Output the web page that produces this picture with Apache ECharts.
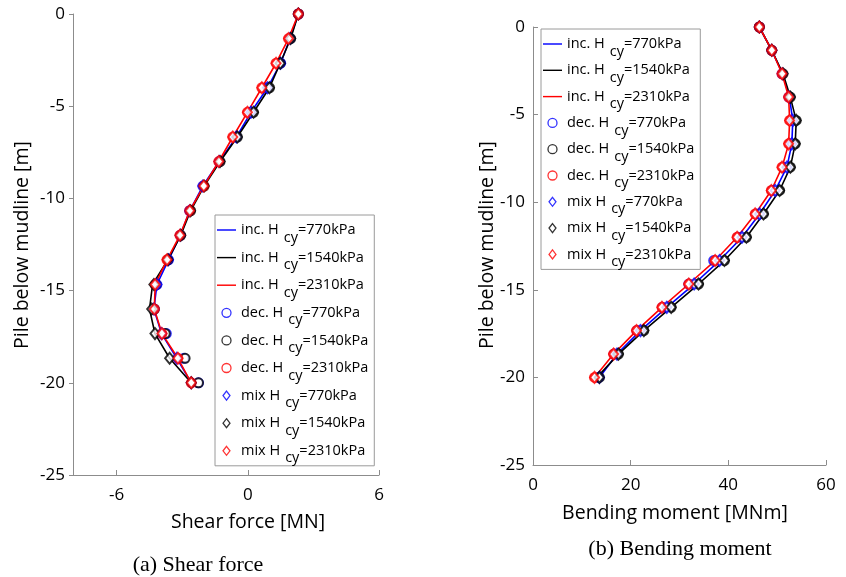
<!DOCTYPE html>
<html>
<head>
<meta charset="utf-8">
<script src="https://cdn.jsdelivr.net/npm/echarts@6/dist/echarts.min.js"></script>
<style>html,body{margin:0;padding:0;background:#fff;}#c{width:846px;height:577px;}</style>
</head>
<body>
<div id="c"></div>
<script>
// depth below mudline [m]
const depth = [0, -1.33, -2.67, -4, -5.33, -6.67, -8, -9.33, -10.67, -12, -13.33, -14.67, -16, -17.33, -18.67, -20];

// Shear force [MN]
const shearInc770  = [2.31, 1.93, 1.50, 0.90, 0.14, -0.52, -1.31, -2.06, -2.66, -3.09, -3.63, -4.16, -4.30, -3.95, -3.25, -2.59];
const shearInc1540 = [2.31, 1.96, 1.48, 0.99, 0.26, -0.48, -1.27, -2.00, -2.62, -3.07, -3.66, -4.36, -4.50, -4.25, -3.58, -2.59];
const shearInc2310 = [2.31, 1.86, 1.29, 0.64, -0.02, -0.69, -1.33, -2.02, -2.66, -3.11, -3.70, -4.24, -4.28, -3.93, -3.20, -2.59];
const shearDec770  = [2.31, 1.93, 1.50, 0.90, 0.14, -0.52, -1.31, -2.06, -2.66, -3.09, -3.63, -4.16, -4.28, -3.73, -2.92, -2.26];
const shearDec1540 = [2.31, 1.96, 1.48, 0.99, 0.26, -0.48, -1.27, -2.00, -2.62, -3.07, -3.66, -4.20, -4.28, -3.78, -2.87, -2.26];
const shearDec2310 = [2.31, 1.86, 1.29, 0.64, -0.02, -0.69, -1.33, -2.02, -2.66, -3.11, -3.70, -4.24, -4.28, -3.93, -3.20, -2.59];
const shearMix770  = [2.31, 1.93, 1.50, 0.90, 0.14, -0.52, -1.31, -2.06, -2.66, -3.09, -3.63, -4.16, -4.30, -3.95, -3.25, -2.59];
const shearMix1540 = [2.31, 1.96, 1.48, 0.99, 0.26, -0.48, -1.27, -2.00, -2.62, -3.07, -3.66, -4.30, -4.40, -4.25, -3.58, -2.59];
const shearMix2310 = [2.31, 1.86, 1.29, 0.64, -0.02, -0.69, -1.33, -2.02, -2.66, -3.11, -3.70, -4.24, -4.28, -3.93, -3.20, -2.59];

// Bending moment [MNm]
const bendInc770  = [46.35, 48.9, 51.1, 52.5, 53.2, 53.0, 52.0, 49.6, 46.4, 42.8, 38.2, 33.0, 27.4, 22.0, 17.2, 13.6];
const bendInc1540 = [46.35, 48.9, 51.2, 52.7, 53.9, 53.7, 52.7, 50.5, 47.2, 43.7, 39.2, 33.9, 28.3, 22.7, 17.5, 13.1];
const bendInc2310 = [46.35, 48.9, 51.0, 52.35, 52.55, 52.35, 51.0, 48.8, 45.5, 41.8, 37.3, 31.9, 26.4, 21.2, 16.5, 12.6];
const bendDec770  = [46.35, 48.9, 51.0, 52.4, 52.8, 52.6, 51.3, 49.0, 45.8, 42.0, 37.0, 31.9, 26.5, 21.3, 16.6, 13.4];
const bendDec1540 = [46.35, 48.9, 51.2, 52.7, 53.9, 53.7, 52.7, 50.5, 47.2, 43.7, 39.2, 33.9, 28.3, 22.7, 17.5, 13.6];
const bendDec2310 = [46.35, 48.9, 51.0, 52.35, 52.55, 52.35, 51.0, 48.8, 45.5, 41.8, 37.3, 31.9, 26.4, 21.2, 16.5, 12.6];
const bendMix770  = [46.35, 48.9, 51.1, 52.5, 53.2, 53.0, 52.0, 49.6, 46.4, 42.8, 38.2, 33.0, 27.4, 22.0, 17.2, 13.6];
const bendMix1540 = [46.35, 48.9, 51.2, 52.7, 53.9, 53.7, 52.7, 50.5, 47.2, 43.7, 39.2, 33.9, 28.3, 22.7, 17.5, 13.6];
const bendMix2310 = [46.35, 48.9, 51.0, 52.35, 52.55, 52.35, 51.0, 48.8, 45.5, 41.8, 37.3, 31.9, 26.4, 21.2, 16.5, 12.6];

const names = [
  'inc. H cy=770kPa', 'inc. H cy=1540kPa', 'inc. H cy=2310kPa',
  'dec. H cy=770kPa', 'dec. H cy=1540kPa', 'dec. H cy=2310kPa',
  'mix H cy=770kPa', 'mix H cy=1540kPa', 'mix H cy=2310kPa'
];
const colors = ['#0000ff', '#000000', '#ff0000'];
const yTicks = [0, -5, -10, -15, -20, -25];
const shearTicks = [-6, 0, 6];
const bendTicks = [0, 20, 40, 60];

const FONT = 'Open Sans';
const shearSets = [shearInc770, shearInc1540, shearInc2310, shearDec770, shearDec1540, shearDec2310, shearMix770, shearMix1540, shearMix2310];
const bendSets = [bendInc770, bendInc1540, bendInc2310, bendDec770, bendDec1540, bendDec2310, bendMix770, bendMix1540, bendMix2310];

function pairs(vals) { return vals.map((v, i) => [v, depth[i]]); }

function makeSeries(sets, idx) {
  return sets.map((vals, k) => {
    const grp = Math.floor(k / 3), c = colors[k % 3];
    const base = { name: names[k], xAxisIndex: idx, yAxisIndex: idx, data: pairs(vals), animation: false, z: 2 + k };
    if (grp === 0) {
      return Object.assign(base, { type: 'line', symbol: 'none', lineStyle: { color: c, width: 1.6 }, itemStyle: { color: c } });
    }
    return Object.assign(base, {
      type: 'scatter',
      symbol: grp === 1 ? 'emptyCircle' : 'emptyDiamond',
      symbolSize: grp === 1 ? 9 : [9, 11],
      itemStyle: { color: c, borderColor: c, borderWidth: 1.5 }
    });
  });
}

function legendData() {
  return names.map((n, k) => {
    const grp = Math.floor(k / 3), c = colors[k % 3];
    if (grp === 0) {
      return { name: n, icon: 'path://M0,0H40V3H0Z', itemStyle: { color: c, borderWidth: 0 } };
    }
    if (grp === 1) {
      return { name: n, icon: 'circle', itemStyle: { color: '#fff', borderColor: c, borderWidth: 1.3 } };
    }
    return { name: n, icon: 'path://M5,0L10,6.5L5,13L0,6.5Z', itemStyle: { color: '#fff', borderColor: c, borderWidth: 1.3 } };
  });
}

function legendFor(left, top, gap) {
  return {
    data: legendData(), orient: 'vertical', left: left, top: top,
    itemWidth: 19, itemHeight: 9, itemGap: gap,
    padding: [0, 6, 0, 2],
    borderColor: '#9a9a9a', borderWidth: 1, backgroundColor: '#fff',
    formatter: (n) => {
      const p = n.split(' cy');
      return '{n|' + p[0] + '}{s|cy}{n|' + p[1] + '}';
    },
    textStyle: {
      color: '#000', fontFamily: FONT, fontSize: 14.5,
      rich: {
        n: { fontFamily: FONT, fontSize: 14.5, lineHeight: 15, color: '#000' },
        s: { fontFamily: FONT, fontSize: 14.5, lineHeight: 15, padding: [15, 0, 0, 5], color: '#000' }
      }
    },
    z: 20
  };
}

const axisLineStyle = { show: true, onZero: false, lineStyle: { color: '#8c8c8c', width: 1 } };
const labelStyle = { color: '#000', fontFamily: FONT, fontSize: 17 };

const option = {
  backgroundColor: '#fff',
  animation: false,
  grid: [
    { left: 73, top: 14, width: 306, height: 461 },
    { left: 533, top: 27, width: 293, height: 438 }
  ],
  xAxis: [
    { type: 'value', gridIndex: 0, min: -8, max: 6,
      axisLine: axisLineStyle, splitLine: { show: false },
      axisTick: { show: true, inside: true, length: 5, customValues: shearTicks, lineStyle: { color: '#8c8c8c' } },
      axisLabel: Object.assign({ customValues: shearTicks, margin: 12 }, labelStyle) },
    { type: 'value', gridIndex: 1, min: 0, max: 60,
      axisLine: axisLineStyle, splitLine: { show: false },
      axisTick: { show: true, inside: true, length: 5, customValues: bendTicks, lineStyle: { color: '#8c8c8c' } },
      axisLabel: Object.assign({ customValues: bendTicks, margin: 12 }, labelStyle) }
  ],
  yAxis: [
    { type: 'value', gridIndex: 0, min: -25, max: 0,
      axisLine: axisLineStyle, splitLine: { show: false },
      axisTick: { show: true, inside: false, length: 4, customValues: yTicks, lineStyle: { color: '#8c8c8c' } },
      axisLabel: Object.assign({ customValues: yTicks, margin: 8 }, labelStyle) },
    { type: 'value', gridIndex: 1, min: -25, max: 0,
      axisLine: axisLineStyle, splitLine: { show: false },
      axisTick: { show: true, inside: true, length: 5, customValues: yTicks, lineStyle: { color: '#8c8c8c' } },
      axisLabel: Object.assign({ customValues: yTicks, margin: 8 }, labelStyle) }
  ],
  legend: [legendFor(215, 215, -2.4), legendFor(541, 29, -3.7)],
  series: makeSeries(shearSets, 0).concat(makeSeries(bendSets, 1)),
  graphic: [
    { type: 'text', x: 22, y: 245, rotation: Math.PI / 2, style: { text: 'Pile below mudline [m]', fill: '#000', font: '19.5px "Open Sans"', textAlign: 'center', textVerticalAlign: 'middle' } },
    { type: 'text', x: 487, y: 245, rotation: Math.PI / 2, style: { text: 'Pile below mudline [m]', fill: '#000', font: '19.5px "Open Sans"', textAlign: 'center', textVerticalAlign: 'middle' } },
    { type: 'text', x: 248, y: 522, style: { text: 'Shear force [MN]', fill: '#000', font: '19.5px "Open Sans"', textAlign: 'center', textVerticalAlign: 'middle' } },
    { type: 'text', x: 675, y: 513, style: { text: 'Bending moment [MNm]', fill: '#000', font: '19.5px "Open Sans"', textAlign: 'center', textVerticalAlign: 'middle' } },
    { type: 'text', x: 198, y: 565, style: { text: '(a) Shear force', fill: '#000', font: '22px "Liberation Serif"', textAlign: 'center', textVerticalAlign: 'middle' } },
    { type: 'text', x: 680, y: 549, style: { text: '(b) Bending moment', fill: '#000', font: '22px "Liberation Serif"', textAlign: 'center', textVerticalAlign: 'middle' } }
  ]
};

const chart = echarts.init(document.getElementById('c'), null, { renderer: 'canvas' });
chart.setOption(option);
</script>
</body>
</html>
